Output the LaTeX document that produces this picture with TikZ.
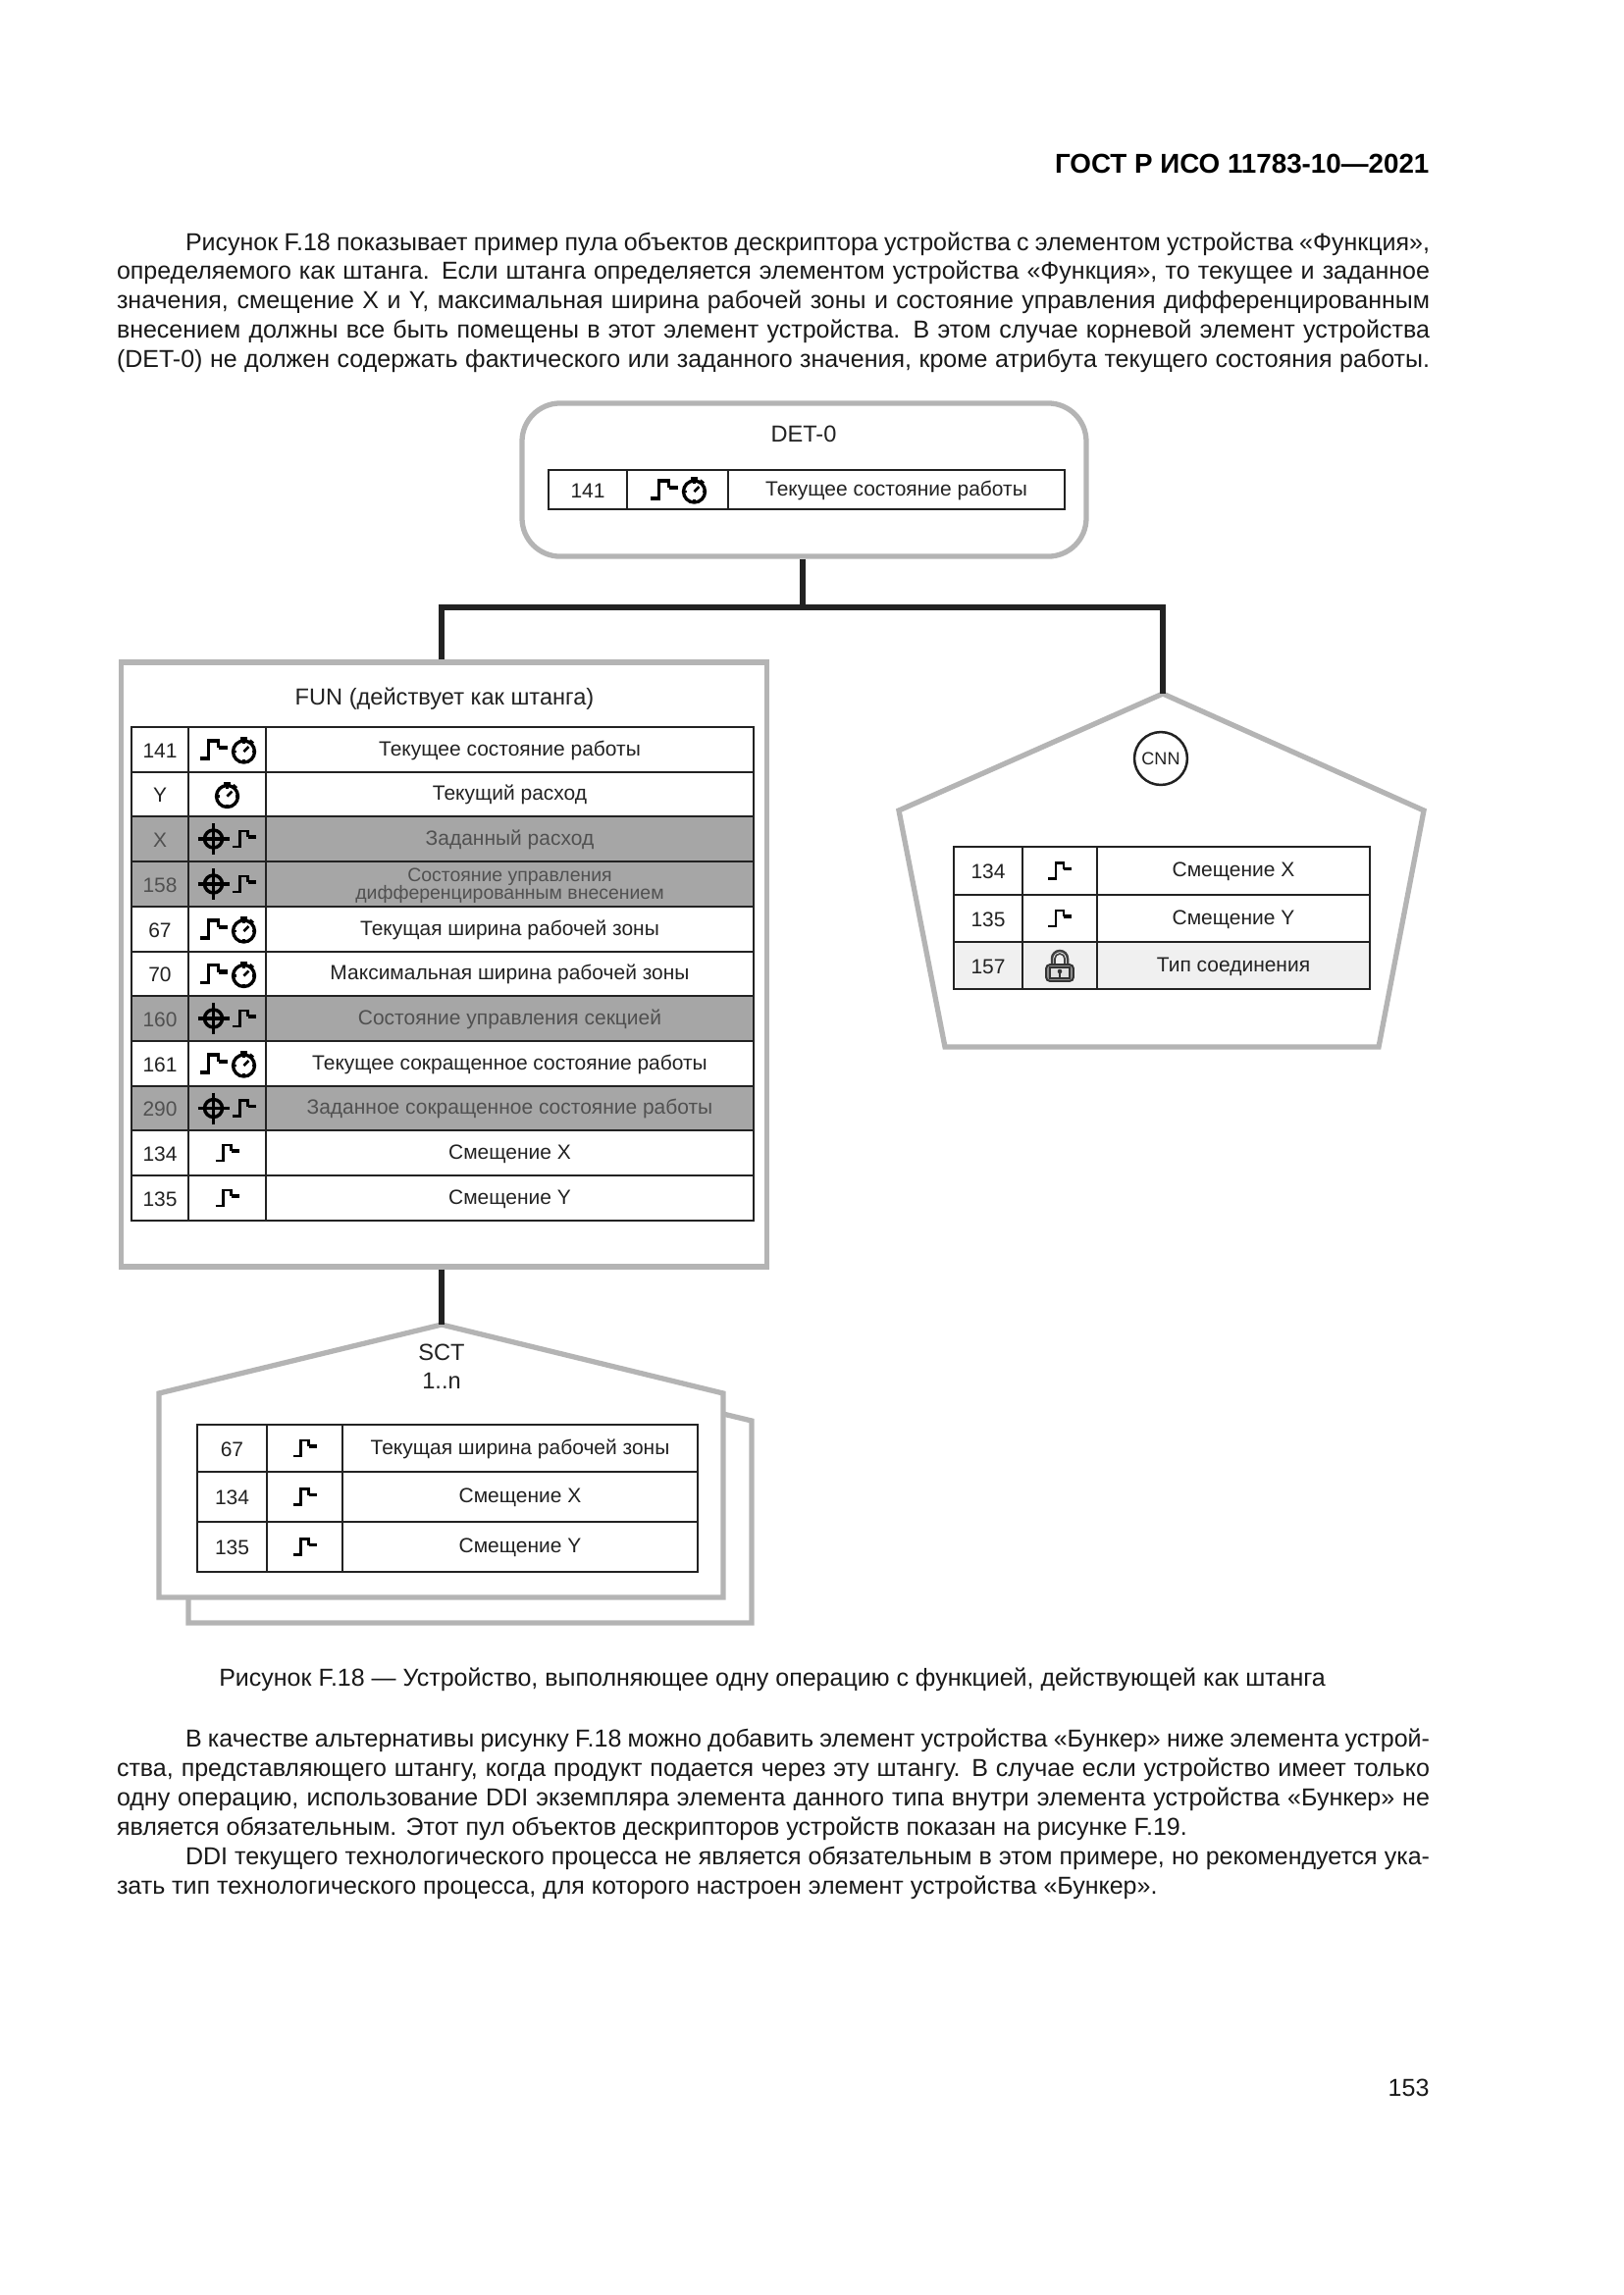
\documentclass[tikz,border=0pt]{standalone}
\usepackage{fontspec}
\setmainfont{Liberation Sans}
\definecolor{boxgray}{HTML}{B4B4B4}
\definecolor{inkdark}{HTML}{222222}
\definecolor{rowdarkc}{HTML}{A6A6A6}
\definecolor{rowlightc}{HTML}{F0F0F0}
\definecolor{textdark}{HTML}{505050}
\tikzset{
 boxline/.style={draw=boxgray,line width=1.9pt,fill=white},
 conn/.style={draw=inkdark,line width=2pt},
 tline/.style={draw=inkdark,line width=0.8pt},
 icon/.style={draw=black,line width=1pt,line join=miter},
 body/.style={inner sep=0pt,outer sep=0pt,anchor=base west,font=\fontsize{9}{10.85}\selectfont,text=black!90},
 title/.style={inner sep=0pt,anchor=base,font=\fontsize{8.5}{10}\selectfont,text=inkdark},
 rowplain/.style={fill=white},
 rowdark/.style={fill=rowdarkc},
 rowlight/.style={fill=rowlightc},
 textplain/.style={text=inkdark},
 textdark/.style={text=textdark},
 textlight/.style={text=inkdark},
 cell/.style={inner sep=0pt,anchor=base,font=\fontsize{7.55}{7}\selectfont,align=center},
 pics/sigstep/.style={code={
   \draw[icon] (-12,8)--(-4,8)--(-4,-8)--(4,-8)--(4,-2);
   \draw[icon,line width=1.4pt] (4,-2)--(12,-2);}},
 pics/bigstep/.style={code={
   \draw[icon,line width=1.1pt] (-14,9)--(-5,9)--(-5,-9)--(5,-9)--(5,-2);
   \draw[icon,line width=1.5pt] (5,-2)--(14,-2);}},
 pics/watch/.style={code={
   \draw[icon,line width=1.2pt] (0,2) circle (11);
   \fill (-3.5,-13) rectangle (3.5,-10);
   \fill (7,-10.5) -- (10.5,-7.5) -- (9,-6) -- (5.5,-9) -- cycle;
   \draw[icon] (0,2)--(5,-3);
   \draw[icon] (0,-9)--(0,-6) (0,10)--(0,13) (-11,2)--(-8,2) (8,2)--(11,2);}},
 pics/target/.style={code={
   \draw[icon,line width=1.25pt] (0,0) circle (9);
   \draw[icon,line width=1.1pt] (-16,0)--(16,0) (0,-16)--(0,16);}},
 pics/stepwatch/.style={code={
   \pic at (-14,0) {bigstep};
   \pic at (17,0) {watch};}},
 pics/targetstep/.style={code={
   \pic at (-14,0) {target};
   \pic at (17,0) {sigstep};}},
 pics/lockicon/.style={code={
   \draw[icon,draw=black!75,line width=.9pt] (-8,0) -- (-8,-7) arc (180:360:8) -- (8,0);
   \draw[icon,draw=black!75,line width=.6pt] (-5,0) -- (-5,-7) arc (180:360:5) -- (5,0);
   \draw[icon,draw=black!80,fill=black!45,line width=.7pt,rounded corners=1.5] (-14,-1) rectangle (14,16);
   \draw[icon,draw=black!80,fill=black!12,line width=.6pt] (-10,2) rectangle (10,13);
   \fill[black!80] (0,6) circle (2.3);
   \fill[black!80] (-1,6) rectangle (1,11.5);}},
}
\newlength\linew
\setlength\linew{481.7pt}
\newcommand\jl[1]{\hbox to \linew{#1}}
\newcommand\jf[1]{\hbox to \linew{\hskip 25.2pt #1}}
\newcommand\twolines[2]{\lower 3.4pt\vbox{\fontsize{7}{6.6}\selectfont\hbox to 0pt{\hss #1\hss}\hbox to 0pt{\hss #2\hss}}}
\newcommand\trow[7]{%
 \path[row#4] (\xa,#2) rectangle (\xd,#3);
 \draw[tline] (\xa,#2) rectangle (\xd,#3) (\xb,#2)--(\xb,#3) (\xc,#2)--(\xc,#3);
 \node[cell,text#4] (#1n) at ({(\xa+\xb)/2},{(#2+#3)/2+8}) {#5};
 \pic at ({(\xb+\xc)/2},{(#2+#3)/2}) {#6};
 \node[cell,text#4] (#1t) at ({(\xc+\xd)/2},{(#2+#3)/2+6}) {#7};
}
\begin{document}
\begin{tikzpicture}[x=0.36pt,y=-0.36pt]
\useasboundingbox[fill=white] (0,0) rectangle (1654,2339);
% page text
\node[inner sep=0pt,anchor=base east,font=\fontsize{10}{12}\bfseries\selectfont] (hdr) at (1457,176) {ГОСТ Р ИСО 11783-10—2021};
\node[body,font=\fontsize{9}{10.75}\selectfont] (para1) at (119,255) {\vtop{%
 \jf{Рисунок F.18 показывает пример пула объектов дескриптора устройства с элементом устройства «Функция»,}
 \jl{определяемого как штанга. Если штанга определяется элементом устройства «Функция», то текущее и заданное}
 \jl{значения, смещение X и Y, максимальная ширина рабочей зоны и состояние управления дифференцированным}
 \jl{внесением должны все быть помещены в этот элемент устройства. В этом случае корневой элемент устройства}
 \jl{(DET-0) не должен содержать фактического или заданного значения, кроме атрибута текущего состояния работы.}}};
\node[inner sep=0pt,anchor=base,font=\fontsize{9}{12}\selectfont,text=black!90] (cap) at (787,1718) {Рисунок F.18 — Устройство, выполняющее одну операцию с функцией, действующей как штанга};
\node[body] (para2) at (119,1780) {\vtop{%
 \jf{В качестве альтернативы рисунку F.18 можно добавить элемент устройства «Бункер» ниже элемента устрой-}
 \jl{ства, представляющего штангу, когда продукт подается через эту штангу. В случае если устройство имеет только}
 \jl{одну операцию, использование DDI экземпляра элемента данного типа внутри элемента устройства «Бункер» не}
 \hbox{является обязательным. Этот пул объектов дескрипторов устройств показан на рисунке F.19.}
 \jf{DDI текущего технологического процесса не является обязательным в этом примере, но рекомендуется ука-}
 \hbox{зать тип технологического процесса, для которого настроен элемент устройства «Бункер».}}};
\node[inner sep=0pt,anchor=base east,font=\fontsize{9}{12}\selectfont,text=black!90] (pageno) at (1457,2136) {153};

% boxes
\node[boxline,rounded corners=14pt,minimum width=207pt,minimum height=56.2pt,inner sep=0pt] (det) at (819.5,489) {};
\node[boxline,rectangle,minimum width=237pt,minimum height=221.8pt,inner sep=0pt] (fun) at (452.5,983) {};
\coordinate (cnnapex) at (1185,707);
\coordinate (sctapex) at (450,1350);
\draw[boxline] (737,1441)--(766,1448)--(766,1654)--(192,1654)--(192,1628);
\draw[boxline,line join=miter] (sctapex)--(737,1420)--(737,1628)--(162,1628)--(162,1420)--cycle;
\draw[boxline,line join=miter] (cnnapex)--(1451,826)--(1405,1067)--(963,1067)--(916,826)--cycle;

% connectors
\coordinate (jl) at (450,619);
\coordinate (jc) at (818,619);
\coordinate (jr) at (1185,619);
\draw[conn] (jc|-det.south)--(jc);
\draw[conn,line join=miter] (jl|-fun.north)--(jl)--(jr)--(cnnapex);
\draw[conn] (sctapex|-fun.south)--(sctapex);

% DET-0
\node[title] (dettitle) at (819,450) {DET-0};
\def\xa{559}\def\xb{639}\def\xc{742}\def\xd{1085}
\trow{d1}{479}{519}{plain}{141}{stepwatch}{Текущее состояние работы}

% FUN
\node[title] (funtitle) at (453,718) {FUN (действует как штанга)};
\def\xa{134}\def\xb{192}\def\xc{271}\def\xd{768}
\trow{f1}{741}{787}{plain}{141}{stepwatch}{Текущее состояние работы}
\trow{f2}{787}{832}{plain}{Y}{watch}{Текущий расход}
\trow{f3}{832}{878}{dark}{X}{targetstep}{Заданный расход}
\trow{f4}{878}{924}{dark}{158}{targetstep}{\twolines{Состояние управления}{дифференцированным внесением}}
\trow{f5}{924}{970}{plain}{67}{stepwatch}{Текущая ширина рабочей зоны}
\trow{f6}{970}{1015}{plain}{70}{stepwatch}{Максимальная ширина рабочей зоны}
\trow{f7}{1015}{1061}{dark}{160}{targetstep}{Состояние управления секцией}
\trow{f8}{1061}{1107}{plain}{161}{stepwatch}{Текущее сокращенное состояние работы}
\trow{f9}{1107}{1152}{dark}{290}{targetstep}{Заданное сокращенное состояние работы}
\trow{f10}{1152}{1198}{plain}{134}{sigstep}{Смещение X}
\trow{f11}{1198}{1244}{plain}{135}{sigstep}{Смещение Y}

% CNN
\node[circle,draw=inkdark,line width=0.9pt,minimum size=19.4pt,inner sep=0pt,font=\fontsize{6.5}{8}\selectfont,text=inkdark] (cnncirc) at (1183,773) {CNN};
\def\xa{972}\def\xb{1042}\def\xc{1118}\def\xd{1396}
\trow{c1}{863}{912}{plain}{134}{sigstep}{Смещение X}
\trow{c2}{912}{960}{plain}{135}{sigstep}{Смещение Y}
\trow{c3}{960}{1008}{light}{157}{lockicon}{Тип соединения}

% SCT
\node[title] (scttitle) at (450,1386) {SCT};
\node[title] (sctn) at (450,1415) {1..n};
\def\xa{201}\def\xb{272}\def\xc{349}\def\xd{711}
\trow{s1}{1452}{1500}{plain}{67}{sigstep}{Текущая ширина рабочей зоны}
\trow{s2}{1500}{1551}{plain}{134}{sigstep}{Смещение X}
\trow{s3}{1551}{1602}{plain}{135}{sigstep}{Смещение Y}
\end{tikzpicture}
\end{document}
